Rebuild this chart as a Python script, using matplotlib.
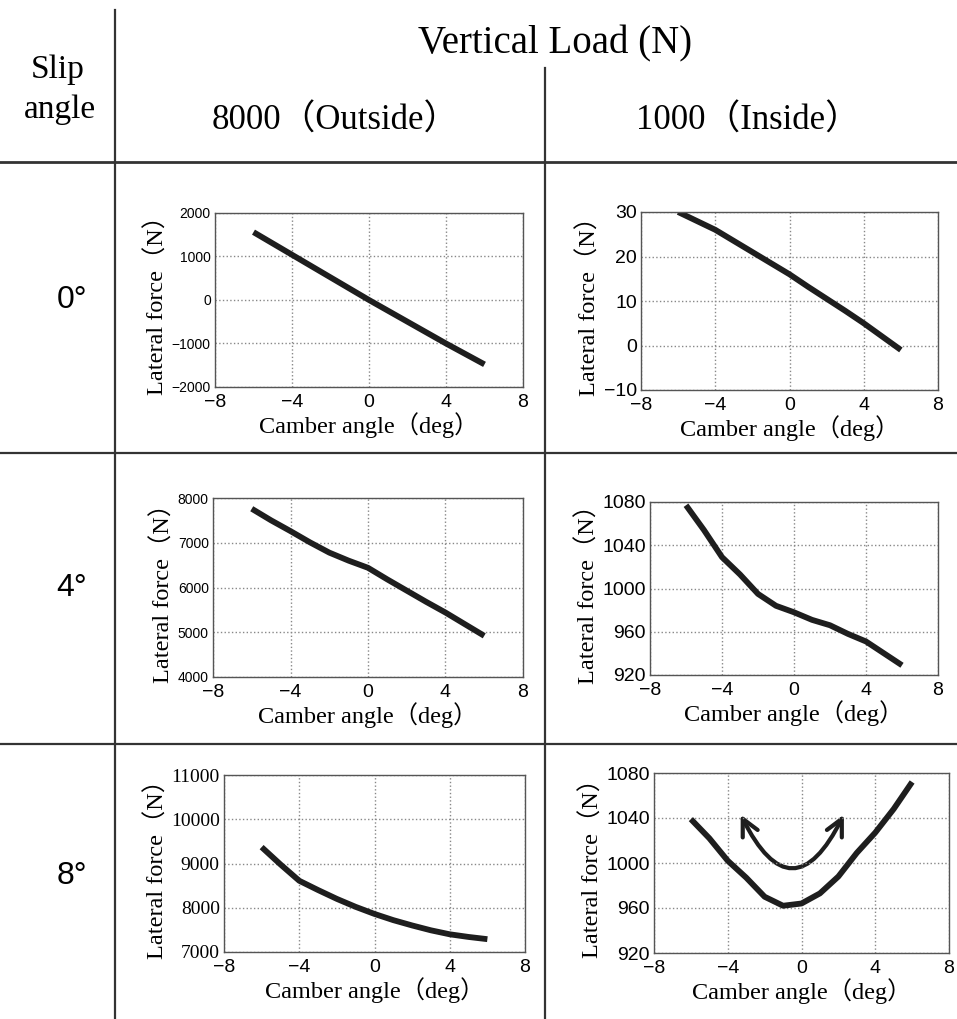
import matplotlib
matplotlib.use("Agg")
import matplotlib.pyplot as plt
from matplotlib.lines import Line2D
from matplotlib.patches import FancyArrowPatch

camber = [-6, -5, -4, -3, -2, -1, 0, 1, 2, 3, 4, 5, 6]

fy_0deg_8000 = [1560, 1300, 1040, 780, 520, 260, 0, -250, -500, -750, -1000, -1240, -1480]
fy_0deg_1000 = [30, 28, 26, 23.5, 21, 18.5, 16, 13.2, 10.5, 7.8, 5, 2, -1]
fy_4deg_8000 = [7760, 7500, 7260, 7010, 6780, 6600, 6440, 6180, 5930, 5680, 5440, 5180, 4920]
fy_4deg_1000 = [1077, 1054, 1029, 1013, 995, 984, 978, 971, 966, 958, 951, 940, 929]
fy_8deg_8000 = [9370, 8980, 8610, 8400, 8200, 8020, 7860, 7720, 7600, 7490, 7400, 7340, 7290]
fy_8deg_1000 = [1039, 1022, 1002, 987, 970, 962, 964, 973, 988, 1009, 1027, 1048, 1072]

slip_labels = ["0°", "4°", "8°"]
load_labels = ["8000（Outside）", "1000（Inside）"]

y_limits = [[(-2000, 2000), (-10, 30)],
            [(4000, 8000), (920, 1080)],
            [(7000, 11000), (920, 1080)]]
y_ticks = [[[-2000, -1000, 0, 1000, 2000], [-10, 0, 10, 20, 30]],
           [[4000, 5000, 6000, 7000, 8000], [920, 960, 1000, 1040, 1080]],
           [[7000, 8000, 9000, 10000, 11000], [920, 960, 1000, 1040, 1080]]]
x_ticks = [-8, -4, 0, 4, 8]

series = [[fy_0deg_8000, fy_0deg_1000],
          [fy_4deg_8000, fy_4deg_1000],
          [fy_8deg_8000, fy_8deg_1000]]

# the hand-drawn U arrow in the 8 deg / 1000 N panel (end points, data units)
arrow_left = (-3.3, 1043)
arrow_right = (2.3, 1043)

# ── layout (pixel boxes of each small plot: left, top, right, bottom) ───────
W, H = 957, 1019
boxes = [[(215, 213, 523, 387), (641, 212, 938, 390)],
         [(213, 498, 523, 677), (650, 502, 938, 675)],
         [(224, 775, 525, 952), (654, 773, 949, 953)]]
row_y = [300, 588, 876]

serif = ["Liberation Serif", "Noto Sans CJK JP"]
sans = ["Liberation Sans", "DejaVu Sans"]

fig = plt.figure(figsize=(W / 100, H / 100), dpi=100)


def px(x, y):
    return x / W, 1 - y / H


def hline(y, x0, x1, lw=1.6):
    (a, b), (c, _) = px(x0, y), px(x1, y)
    fig.add_artist(Line2D([a, c], [b, b], color="#333333", lw=lw))


def vline(x, y0, y1, lw=1.6):
    (a, b), (_, d) = px(x, y0), px(x, y1)
    fig.add_artist(Line2D([a, a], [b, d], color="#333333", lw=lw))


# table rules
vline(115, 10, H)
vline(545, 68, H)
hline(162, 0, W, lw=2)
hline(453, 0, W)
hline(744, 0, W)

# headers
fig.text(*px(555, 44), "Vertical Load (N)", family=serif, fontsize=28,
         ha="center", va="center")
fig.text(*px(58, 70), "Slip", family=serif, fontsize=24, ha="center", va="center")
fig.text(*px(60, 110), "angle", family=serif, fontsize=24, ha="center", va="center")
for cx, lab in zip([335, 748], load_labels):
    fig.text(*px(cx, 121), lab, family=serif, fontsize=25, ha="center", va="center")
for ry, lab in zip(row_y, slip_labels):
    fig.text(*px(72, ry), lab, family=sans, fontsize=23, ha="center", va="center")

for r in range(3):
    for c in range(2):
        l, t, rr, b = boxes[r][c]
        ax = fig.add_axes([l / W, 1 - b / H, (rr - l) / W, (b - t) / H])
        ax.plot(camber, series[r][c], color="#1e1e1e", lw=4.2,
                solid_capstyle="butt", solid_joinstyle="round")
        ax.set_xlim(-8, 8)
        ax.set_ylim(*y_limits[r][c])
        ax.set_xticks(x_ticks)
        ax.set_yticks(y_ticks[r][c])
        ax.grid(True, color="#888888", ls=":", lw=1)
        ax.tick_params(length=0)
        ax.tick_params(axis="x", pad=5)
        ax.tick_params(axis="y", pad=3)
        for lab in ax.get_xticklabels():
            lab.set_family(sans)
            lab.set_fontsize(14)
        small = c == 0 and r < 2
        for lab in ax.get_yticklabels():
            lab.set_family(serif if (r == 2 and c == 0) else sans)
            lab.set_fontsize(10 if small else 14)
        for s in ax.spines.values():
            s.set_color("#555555")
            s.set_linewidth(1)
        ax.set_xlabel("Camber angle（deg）", family=serif, fontsize=17.5, labelpad=1)
        ax.set_ylabel("Lateral force（N）", family=serif, fontsize=17.5, labelpad=2)

        if r == 2 and c == 1:
            ax.add_patch(FancyArrowPatch(arrow_left, arrow_right,
                                         connectionstyle="arc3,rad=1.0",
                                         arrowstyle="<->,head_length=12,head_width=6",
                                         color="#1e1e1e", lw=3,
                                         shrinkA=0, shrinkB=0))

fig.savefig("out.png", dpi=100)
